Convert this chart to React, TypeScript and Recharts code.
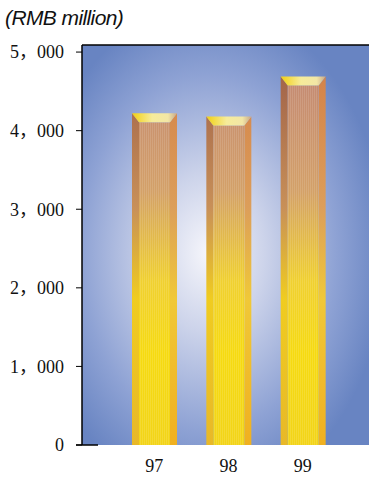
import React from "react";
import { Bar, BarChart, CartesianGrid, ReferenceLine, XAxis, YAxis } from "recharts";

const years = ["97", "98", "99"];
const revenue = [4220, 4180, 4690];
const yTicks = [0, 1000, 2000, 3000, 4000, 5000];
const yMax = 5090;

const data = years.map((year, i) => ({ year, value: revenue[i] }));

const SERIF = "'Liberation Serif', 'Noto Sans CJK JP', serif";

const fmt = (v: number) => (v === 0 ? "0" : `${v / 1000}，000`);

// prism-like column: yellow top cap, two bevels and a striped front face
function PrismBar(props: any) {
  const { x, y, width, height } = props;
  if (!height || height <= 0) return null;
  const b = 7;
  const cap = 9;
  const bottom = y + height;
  return (
    <g>
      <polygon
        points={`${x},${y} ${x + b},${y + cap} ${x + b},${bottom} ${x},${bottom}`}
        fill="url(#bevelLeft)"
      />
      <polygon
        points={`${x + width},${y} ${x + width - b},${y + cap} ${x + width - b},${bottom} ${x + width},${bottom}`}
        fill="url(#bevelRight)"
      />
      <rect x={x + b} y={y + cap} width={width - 2 * b} height={height - cap} fill="url(#face)" />
      <rect x={x + b} y={y + cap} width={width - 2 * b} height={height - cap} fill="url(#stripes)" />
      <polygon
        points={`${x},${y} ${x + width},${y} ${x + width - b},${y + cap} ${x + b},${y + cap}`}
        fill="url(#cap)"
      />
    </g>
  );
}

function YTick(props: any) {
  const { x, y, payload } = props;
  return (
    <g>
      <text x={x} y={y} dy="0.35em" textAnchor="end" fontFamily={SERIF} fontSize={18} fill="#111">
        {fmt(payload.value)}
      </text>
      {payload.value === 0 && <line x1={x + 12} x2={x + 34} y1={y} y2={y} stroke="#000" strokeWidth={1.5} />}
    </g>
  );
}

export default function App() {
  return (
    <div style={{ position: "absolute", left: 0, top: 0, width: 369, height: 478, background: "#fff" }}>
      <div
        style={{
          position: "absolute",
          left: 5,
          top: 6,
          fontFamily: "'Liberation Sans', Arial, sans-serif",
          fontStyle: "italic",
          fontSize: 21,
          letterSpacing: -0.6,
          color: "#111",
        }}
      >
        (RMB million)
      </div>
      <BarChart width={369} height={478} data={data} margin={{ top: 45, right: 0, left: 0, bottom: 3 }}>
        <defs>
          <radialGradient id="bg" cx="0.44" cy="0.52" r="0.62">
            <stop offset="0" stopColor="#f6f6fb" />
            <stop offset="0.32" stopColor="#ccd3ea" />
            <stop offset="0.72" stopColor="#8ea2d4" />
            <stop offset="1" stopColor="#6884c2" />
          </radialGradient>
          <linearGradient id="face" gradientUnits="userSpaceOnUse" x1="0" y1="80" x2="0" y2="445">
            <stop offset="0" stopColor="#c48a72" />
            <stop offset="0.3" stopColor="#d3a068" />
            <stop offset="0.55" stopColor="#f0d030" />
            <stop offset="0.75" stopColor="#f6da10" />
            <stop offset="1" stopColor="#f2d418" />
          </linearGradient>
          <linearGradient id="bevelLeft" gradientUnits="userSpaceOnUse" x1="0" y1="80" x2="0" y2="445">
            <stop offset="0" stopColor="#a4664a" />
            <stop offset="0.35" stopColor="#c89058" />
            <stop offset="0.6" stopColor="#f0cc20" />
            <stop offset="1" stopColor="#e8b828" />
          </linearGradient>
          <linearGradient id="bevelRight" gradientUnits="userSpaceOnUse" x1="0" y1="80" x2="0" y2="445">
            <stop offset="0" stopColor="#d4844a" />
            <stop offset="0.35" stopColor="#dc9e5a" />
            <stop offset="0.6" stopColor="#f0c838" />
            <stop offset="1" stopColor="#f0b020" />
          </linearGradient>
          <linearGradient id="cap" x1="0" y1="0" x2="1" y2="0">
            <stop offset="0" stopColor="#f2d010" />
            <stop offset="0.45" stopColor="#f6ec9a" />
            <stop offset="0.8" stopColor="#f2e6a6" />
            <stop offset="1" stopColor="#c8a888" />
          </linearGradient>
          <pattern id="stripes" width="2" height="4" patternUnits="userSpaceOnUse">
            <rect x="0" y="0" width="1" height="4" fill="#ffffff" fillOpacity="0.12" />
          </pattern>
        </defs>
        <CartesianGrid horizontal={false} vertical={false} fill="url(#bg)" />
        <XAxis
          dataKey="year"
          height={30}
          axisLine={false}
          tickLine={false}
          tickSize={0}
          tickMargin={14}
          padding={{ left: 35, right: 29 }}
          tick={{ fontFamily: SERIF, fontSize: 18, fill: "#111" }}
        />
        <YAxis
          width={82}
          domain={[0, yMax]}
          ticks={yTicks}
          allowDataOverflow
          axisLine={{ stroke: "#000", strokeWidth: 1.5 }}
          tickLine={{ stroke: "#000" }}
          tickSize={6}
          tickMargin={12}
          tick={<YTick />}
        />
        <ReferenceLine y={yMax} stroke="#000" strokeWidth={1.5} />
        <Bar dataKey="value" barSize={45} shape={<PrismBar />} isAnimationActive={false} />
      </BarChart>
    </div>
  );
}
